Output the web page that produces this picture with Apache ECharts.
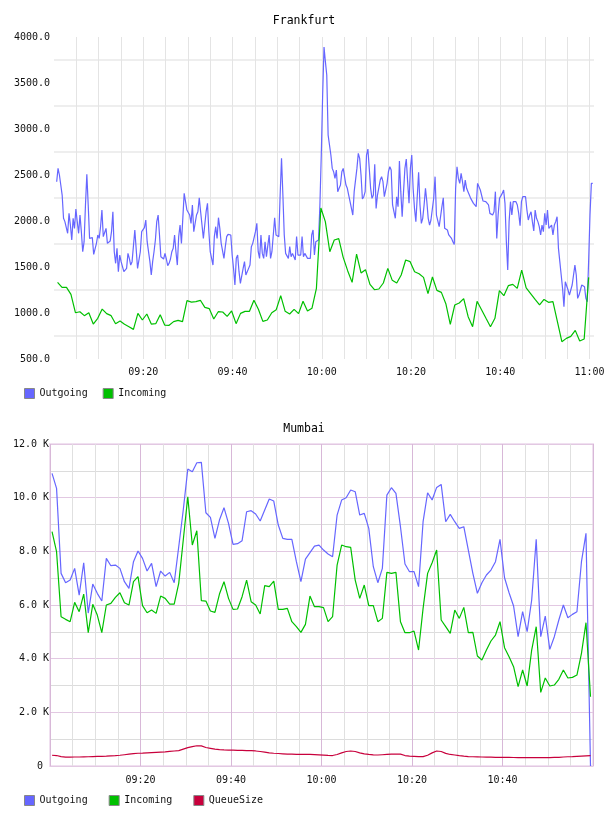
<!DOCTYPE html>
<html>
<head>
<meta charset="utf-8">
<script src="https://cdn.jsdelivr.net/npm/echarts@6.0.0/dist/echarts.min.js"></script>
<style>
  html, body { margin: 0; padding: 0; background: #fff; }
  #chart { width: 608px; height: 816px; }
</style>
</head>
<body>
<div id="chart"></div>
<script>
// minutes after 09:00 for the first sample, and sample spacing in minutes
const fraOutStart = 0.6, fraOutStep = 0.3072;
const fraInStart = 0.8, fraInStep = 1;
const bomStart = 0.45, bomStep = 1;

// Frankfurt
const fraOutgoing = [
  2427,2572,2500,2391,2282,2029,1993,1974,1866,2083,
  1956,1793,2029,1920,2130,1993,1866,2065,1884,1666,
  1775,2174,2507,2174,1811,1793,1819,1637,1648,1757,
  1848,1811,1938,2119,1830,1848,1920,1757,1746,1782,
  1884,2101,1666,1540,1703,1449,1630,1558,1576,1449,
  1431,1485,1648,1594,1521,1558,1540,1902,1913,1485,
  1485,1666,1884,1884,1927,2011,1775,1757,1558,1413,
  1558,1666,1793,1993,2065,1848,1612,1601,1587,1648,
  1587,1514,1540,1587,1666,1703,1848,1666,1521,1830,
  1956,1757,1757,2300,2210,2119,2137,2065,1974,2174,
  1884,1866,2065,2101,2253,2101,1956,1811,1956,2101,
  2192,1884,1666,1674,1521,1830,1938,1811,2036,1920,
  1757,1739,1594,1721,1830,1855,1866,1848,1630,1485,
  1304,1594,1630,1449,1322,1304,1485,1558,1413,1431,
  1485,1521,1721,1757,1819,1884,1974,1666,1594,1848,
  1648,1594,1775,1612,1732,1848,1594,1666,1848,2036,
  1848,1866,1830,2282,2681,2282,1848,1648,1630,1594,
  1721,1612,1648,1630,1576,1830,1630,1648,1630,1830,
  1612,1648,1648,1594,1576,1594,1848,1902,1630,1775,
  1775,1793,2174,2717,3369,
  3890,3732,3587,2934,2916,2717,2572,2536,2463,2554,
  2319,2355,2391,2536,2572,2554,2391,2355,2282,2210,
  2192,2065,2319,2319,2572,2735,2681,2500,2239,2264,
  2319,2717,2782,2572,2355,2246,2282,2616,2137,2282,
  2290,2445,2482,2427,2264,2246,2409,2536,2590,2554,
  2174,2101,2029,2264,2156,2652,2319,2047,2319,2572,
  2674,2427,2192,2572,2717,2355,2137,1993,1993,2529,
  2174,1974,2029,2174,2355,2210,2029,1956,2011,2011,
  2246,2482,2065,2047,1938,1956,2156,2253,1920,1920,
  1902,1848,1830,1811,1775,1746,2355,2590,2463,2409,
  2518,2427,2319,2445,2355,2319,2282,2246,2228,2192,
  2174,2156,2409,2409,2337,2355,2217,2210,2210,2192,
  2174,2083,2101,2065,2101,2319,1811,2065,2246,2246,
  2300,2337,2192,1775,1467,1993,2210,2065,2210,2228,
  2210,2174,2083,1949,2210,2264,2282,2264,2119,2011,
  2065,2101,1993,1891,2119,2029,1993,1938,1848,1956,
  1884,2083,1956,2119,1920,1902,1956,1848,1956,1993,
  2047,1703,1558,1413,1268,1069,1340,1358,1250,1195,
  1250,1304,1286,1521,1413,1159,1195,1250,1304,1322,
  1286,1159,1123,1558,2065,2409,2409
];
const fraIncoming = [
  1333,1279,1279,1203,1003,1014,971,1003,880,942,
  1043,993,971,884,913,877,851,822,996,924,
  989,880,884,982,869,866,906,920,906,1134,
  1119,1123,1138,1061,1047,935,1014,1011,964,1022,
  884,996,1018,1018,1138,1040,909,924,1003,1036,
  1188,1018,989,1040,993,1127,1022,1051,1268,
  2141,1993,1666,1793,1808,1605,1460,1333,1641,1435,
  1471,1311,1253,1261,1326,1485,1355,1326,1413,1576,
  1558,1449,1427,1387,1210,1391,1246,1224,1101,877,
  1087,1109,1156,960,851,1127,1036,942,851,942,
  1243,1188,1297,1311,1268,1467,1272,1210,1148,1087,
  1148,1116,1123,906,688,724,746,811,696,717,
  1387
];

// Mumbai
const bomOutgoing = [
  10905,10346,7179,6831,6930,7365,6371,7576,5700,6781,
  6434,6148,7738,7464,7489,7365,6868,6620,7613,8011,
  7738,7266,7551,6682,7266,7079,7216,6831,8172,9539,
  11066,10967,11302,11315,9439,9265,8483,9166,9626,9042,
  8259,8284,8396,9476,9514,9390,9129,9539,9948,9874,
  8980,8483,8446,8446,7613,6868,7713,7949,8197,8234,
  8048,7899,7800,9352,9911,9998,10284,10222,9352,9414,
  8855,7427,6831,7365,10097,10371,10160,8918,7527,7241,
  7241,6682,9104,10184,9911,10383,10495,9104,9377,9104,
  8855,8918,8048,7179,6434,6831,7117,7303,7613,8446,
  7017,6458,5962,4819,5750,5005,6185,8446,4819,5589,
  4347,4819,5440,5999,5527,5651,5750,7613,8669,0
];
const bomIncoming = [
  8731,7986,5564,5465,5378,6098,5750,6409,4968,6024,
  5626,4968,5999,6061,6285,6458,6086,5999,6868,7055,
  5974,5713,5813,5688,6334,6247,6036,6036,6806,8421,
  10035,8234,8769,6160,6148,5775,5726,6409,6868,6247,
  5837,5850,6309,6930,6123,5999,5664,6719,6682,6893,
  5837,5837,5875,5378,5192,4980,5279,6334,5937,5937,
  5900,5378,5564,7489,8234,8172,8148,6930,6247,6744,
  5974,5974,5378,5502,7216,7179,7216,5378,4968,4968,
  5030,4322,5875,7179,7576,8048,5440,5192,4943,5813,
  5502,5912,4968,4980,4099,3950,4322,4658,4881,5378,
  4409,4074,3701,2956,3577,2981,4322,5192,2745,3279,
  2981,3018,3229,3577,3279,3304,3391,4198,5341,2583
];
const bomQueueSize = [
  400,390,350,330,330,335,335,340,345,350,
  355,360,365,375,385,400,420,440,460,475,
  480,490,500,510,520,530,545,560,575,630,
  685,720,755,750,690,660,630,610,600,595,
  590,585,580,575,570,560,540,515,490,475,
  465,455,445,440,435,430,435,430,425,415,
  405,395,390,430,490,540,560,540,490,450,
  430,415,410,420,430,440,447,440,390,370,
  360,350,348,400,490,560,540,470,430,410,
  385,365,350,345,340,335,330,328,325,323,
  320,318,316,315,314,313,312,312,311,311,
  315,320,325,335,345,350,360,370,380,385
];

const mono = 'DejaVu Sans Mono';
const cBlue = '#6666ff', cGreen = '#00c000', cRed = '#c8003c';

function pts(start, step, vals) {
  return vals.map((v, i) => [start + i * step, v]);
}
function hhmm(t) {
  const m = Math.round(t) + 9 * 60;
  return String(Math.floor(m / 60)).padStart(2, '0') + ':' + String(m % 60).padStart(2, '0');
}
function line(name, color, xi, data) {
  return {
    name, type: 'line', xAxisIndex: xi, yAxisIndex: xi, data,
    symbol: 'none', color, lineStyle: { width: 1.2, color },
    silent: true
  };
}

const txt = { fontFamily: mono, fontSize: 10, color: '#111' };
const legendBase = {
  left: 24, padding: 0, icon: 'rect', itemWidth: 10, itemHeight: 10,
  itemStyle: { borderColor: '#888', borderWidth: 1 },
  textStyle: txt, selectedMode: false
};

const chart = echarts.init(document.getElementById('chart'));
chart.setOption({
  animation: false,
  backgroundColor: '#fff',
  title: [
    { text: 'Frankfurt', left: 'center', top: 15, padding: 0,
      textStyle: { fontFamily: mono, fontSize: 11.5, fontWeight: 'normal', color: '#000' } },
    { text: 'Mumbai', left: 'center', top: 423, padding: 0,
      textStyle: { fontFamily: mono, fontSize: 11.5, fontWeight: 'normal', color: '#000' } }
  ],
  legend: [
    Object.assign({}, legendBase, { top: 388, itemGap: 15, data: ['Outgoing', 'Incoming'] }),
    Object.assign({}, legendBase, { top: 795, itemGap: 21, data: ['Outgoing', 'Incoming', 'QueueSize'] })
  ],
  grid: [
    { left: 54, right: 14, top: 37, height: 322 },
    { left: 50, right: 15, top: 444, height: 322, show: true, borderColor: '#f0e0f0', borderWidth: 2 }
  ],
  xAxis: [
    {
      type: 'value', gridIndex: 0, min: 0, max: 121, interval: 5,
      axisLine: { show: false }, axisTick: { show: false },
      axisLabel: Object.assign({ margin: 8, formatter: v => (v % 20 === 0 && v > 0) ? hhmm(v) : '' }, txt),
      splitLine: { show: true, showMinLine: false, showMaxLine: false, lineStyle: { color: '#e4e4e4', width: 1 } }
    },
    {
      type: 'value', gridIndex: 1, min: 0, max: 120, interval: 5,
      axisLine: { show: false }, axisTick: { show: false },
      axisLabel: Object.assign({ margin: 9, formatter: v => (v % 20 === 0 && v > 0 && v < 120) ? hhmm(v) : '' }, txt),
      splitLine: { show: true, lineStyle: { color: ['#d8b8d8', '#e0e0e0', '#e0e0e0', '#e0e0e0'], width: 1 } }
    }
  ],
  yAxis: [
    {
      type: 'value', gridIndex: 0, min: 500, max: 4000, interval: 250,
      axisLine: { show: false }, axisTick: { show: false },
      axisLabel: Object.assign({ margin: 4, formatter: v => v % 500 === 0 ? v.toFixed(1) : '' }, txt),
      splitLine: { show: true, lineStyle: { color: ['rgba(0,0,0,0)', '#eeeeee'], width: 2 } }
    },
    {
      type: 'value', gridIndex: 1, min: 0, max: 12000, interval: 1000,
      axisLine: { show: false }, axisTick: { show: false },
      axisLabel: Object.assign({ margin: 1, formatter: v => v % 2000 !== 0 ? '' : (v === 0 ? '0 ' : (v / 1000).toFixed(1) + ' K') }, txt),
      splitLine: { show: true, lineStyle: { color: ['#e2c8e2', '#dcdcdc'], width: 1 } }
    }
  ],
  series: [
    line('Outgoing', cBlue, 0, pts(fraOutStart, fraOutStep, fraOutgoing)),
    line('Incoming', cGreen, 0, pts(fraInStart, fraInStep, fraIncoming)),
    line('Outgoing', cBlue, 1, pts(bomStart, bomStep, bomOutgoing)),
    line('Incoming', cGreen, 1, pts(bomStart, bomStep, bomIncoming)),
    line('QueueSize', cRed, 1, pts(bomStart, bomStep, bomQueueSize))
  ]
});
</script>
</body>
</html>
